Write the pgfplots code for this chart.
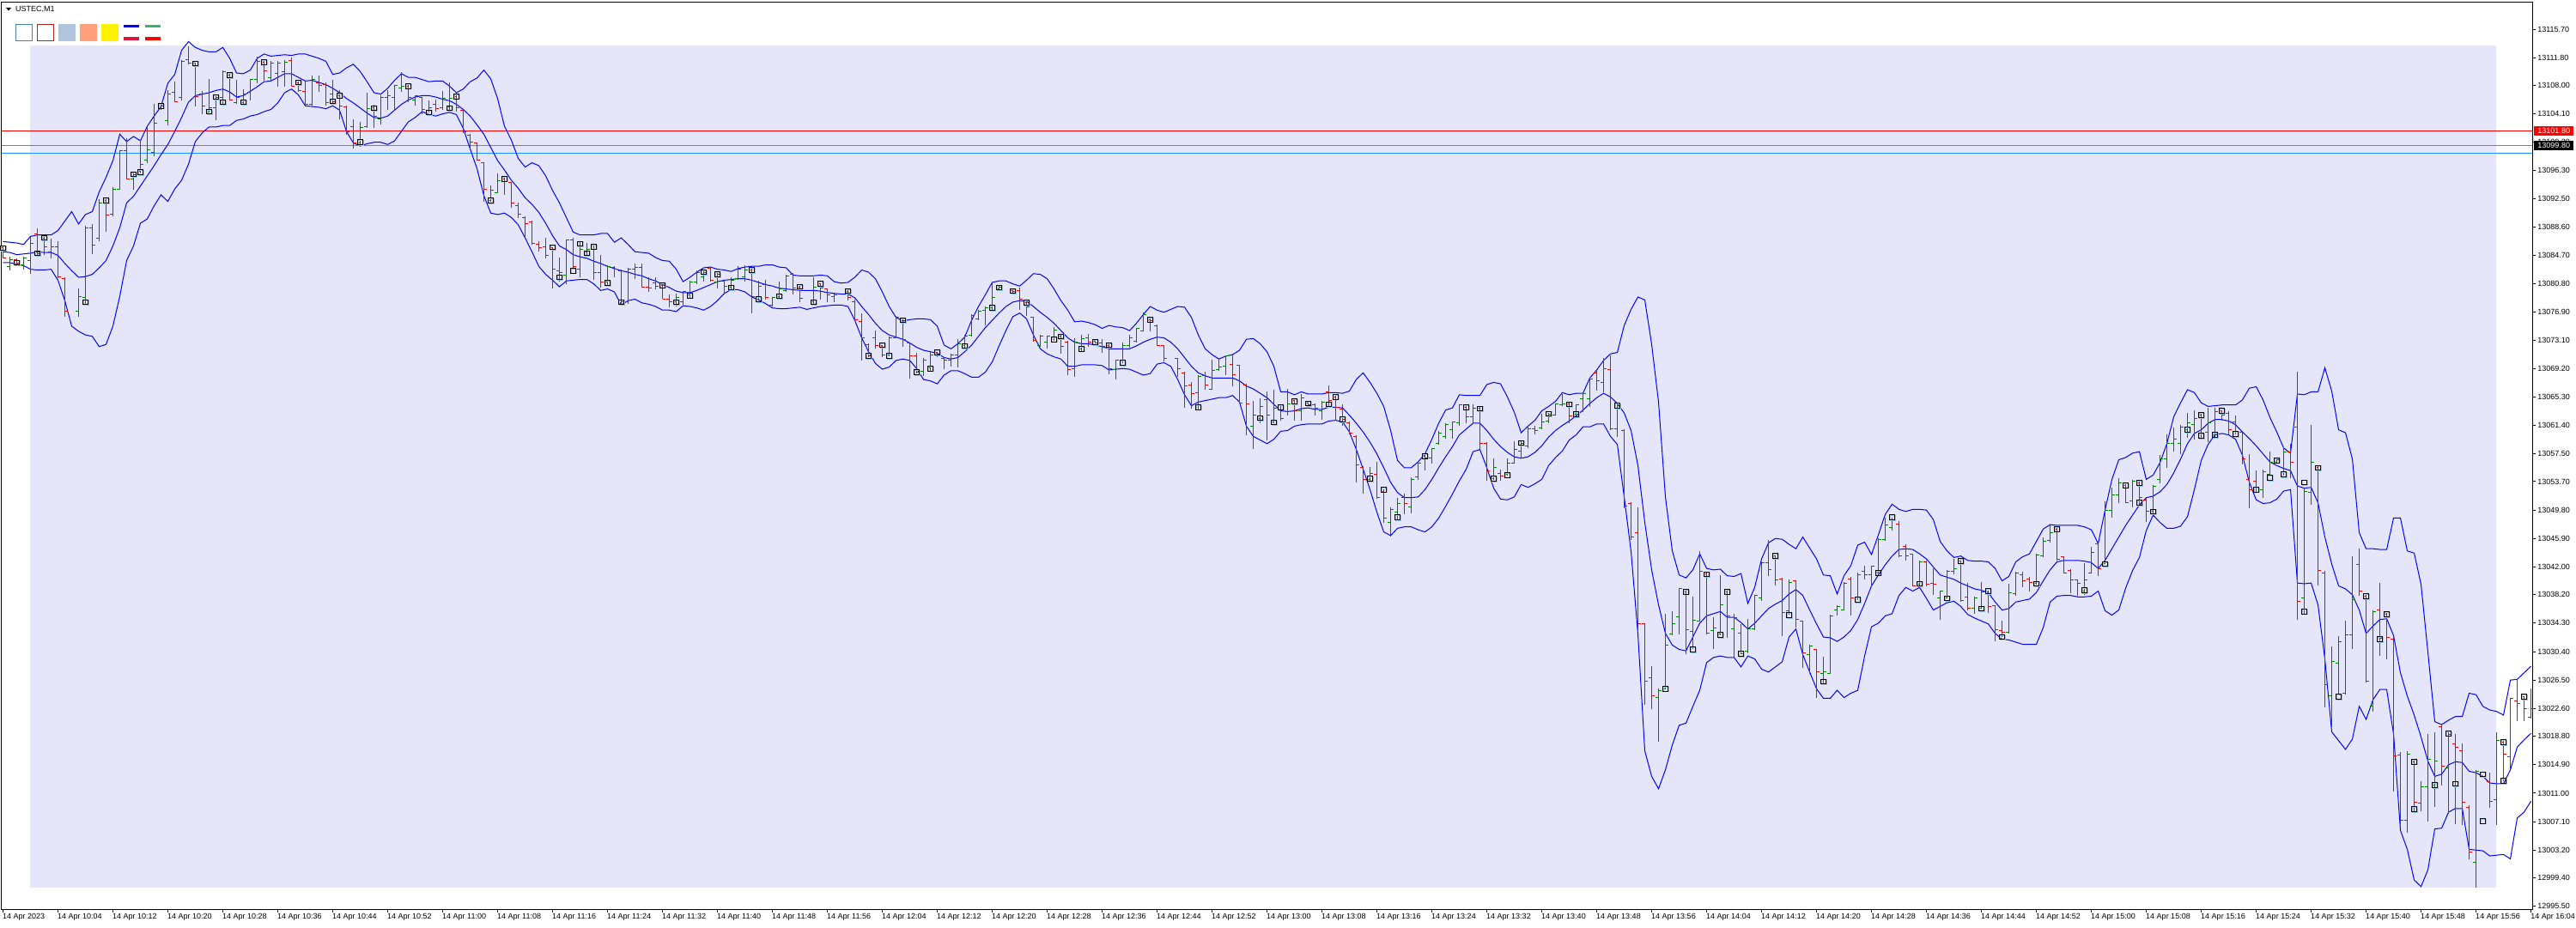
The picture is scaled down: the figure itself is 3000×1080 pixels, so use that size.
\documentclass[border=0pt]{standalone}
\usepackage{pgfplots}
\pgfplotsset{compat=1.18}
\usepackage{pgfplotstable}
\usepackage{fontspec}
\setmainfont{Liberation Sans}
\definecolor{mtgreen}{RGB}{0,128,0}
\definecolor{mtred}{RGB}{255,0,0}
\definecolor{lav}{RGB}{230,230,250}
\definecolor{bandblue}{RGB}{0,0,255}
\definecolor{sqshadow}{RGB}{140,200,240}
\definecolor{steelb}{RGB}{70,130,180}
\definecolor{fireb}{RGB}{178,34,34}
\definecolor{lsteel}{RGB}{176,196,222}
\definecolor{lsalmon}{RGB}{255,160,122}
\definecolor{crims}{RGB}{220,20,60}
\definecolor{mseagreen}{RGB}{60,179,113}
\definecolor{dodger}{RGB}{30,144,255}
\definecolor{bidgray}{RGB}{128,128,128}
\pgfdeclareplotmark{otick}{\pgfpathmoveto{\pgfqpoint{-3.5pt}{0pt}}\pgfpathlineto{\pgfqpoint{0pt}{0pt}}\pgfusepathqstroke}
\pgfdeclareplotmark{ctick}{\pgfpathmoveto{\pgfqpoint{0pt}{0pt}}\pgfpathlineto{\pgfqpoint{3.5pt}{0pt}}\pgfusepathqstroke}

\pgfplotstableread{
i O H L C
1 13083.2 13084.5 13082.6 13084.1
3 13083.4 13084.5 13082.7 13084.3
4 13084.0 13087.2 13082.2 13086.4
7 13085.2 13087.0 13084.3 13085.9
11 13077.1 13080.2 13076.3 13079.1
12 13078.9 13088.7 13078.0 13088.5
14 13087.1 13092.4 13086.6 13091.9
16 13090.3 13094.1 13090.1 13093.7
17 13093.8 13099.1 13093.7 13099.0
19 13095.2 13096.0 13093.7 13095.8
20 13096.2 13100.5 13095.9 13097.2
21 13097.7 13102.4 13097.3 13099.2
22 13098.8 13105.5 13098.3 13102.8
23 13104.9 13105.6 13104.6 13105.2
24 13103.2 13107.3 13102.5 13106.8
26 13106.4 13111.5 13105.9 13111.3
30 13104.4 13108.9 13104.3 13104.9
31 13104.9 13106.6 13103.2 13106.4
32 13106.4 13110.0 13105.5 13109.9
34 13105.7 13108.8 13105.5 13106.4
35 13105.7 13107.5 13105.5 13106.8
36 13107.1 13108.9 13105.9 13108.8
37 13108.8 13111.9 13108.3 13111.3
39 13109.0 13111.3 13108.5 13111.1
40 13109.7 13111.3 13107.8 13111.1
41 13109.9 13111.5 13107.8 13111.2
45 13105.4 13109.3 13105.2 13108.8
52 13100.1 13103.0 13099.6 13102.2
53 13102.4 13107.0 13102.2 13104.8
55 13103.4 13106.6 13102.6 13106.4
56 13106.4 13107.3 13104.6 13106.6
57 13106.4 13108.1 13104.6 13108.0
58 13107.7 13109.8 13107.1 13107.9
60 13106.0 13106.7 13105.2 13106.6
62 13104.6 13105.9 13104.3 13104.9
64 13104.9 13107.2 13104.7 13106.2
65 13105.0 13108.4 13104.6 13106.2
71 13092.2 13094.3 13092.0 13093.6
72 13093.3 13095.9 13093.2 13094.9
82 13082.0 13086.9 13080.7 13086.8
84 13082.8 13086.5 13081.7 13085.5
85 13085.2 13086.4 13084.8 13085.5
88 13081.1 13083.4 13080.5 13083.2
91 13078.3 13083.0 13078.1 13082.8
92 13082.8 13083.6 13081.5 13083.1
98 13078.3 13079.5 13077.7 13078.9
99 13078.3 13079.8 13077.9 13079.7
100 13079.3 13081.2 13078.9 13081.1
101 13081.1 13082.6 13080.8 13082.3
102 13081.7 13082.7 13081.1 13082.4
104 13081.1 13082.4 13080.2 13082.1
106 13080.3 13081.7 13080.1 13081.3
107 13081.5 13083.2 13081.3 13082.8
108 13081.7 13083.4 13081.1 13082.7
110 13078.9 13081.2 13078.6 13080.5
112 13077.9 13079.0 13077.7 13078.9
113 13079.1 13081.1 13078.9 13080.1
114 13079.9 13082.0 13079.7 13081.9
118 13078.3 13081.7 13078.0 13080.3
121 13079.1 13079.5 13078.3 13079.3
129 13071.1 13073.6 13070.9 13073.4
130 13073.4 13076.4 13073.4 13076.2
134 13068.8 13070.6 13068.2 13070.3
135 13069.3 13071.5 13068.9 13071.1
138 13070.3 13071.2 13069.5 13071.1
139 13071.1 13073.2 13069.3 13072.6
140 13072.4 13073.8 13072.1 13073.6
141 13073.8 13076.7 13073.6 13076.5
142 13076.0 13077.2 13075.8 13077.0
143 13077.2 13077.7 13075.1 13077.5
144 13077.5 13081.0 13077.2 13078.9
145 13080.1 13080.5 13079.9 13080.3
151 13072.4 13073.8 13072.2 13073.6
152 13072.8 13073.7 13071.9 13073.6
153 13073.4 13074.9 13073.0 13074.5
156 13069.2 13073.4 13068.1 13072.8
157 13071.9 13073.8 13071.5 13073.3
162 13069.1 13070.4 13067.7 13070.3
163 13070.2 13072.7 13069.9 13072.4
164 13072.3 13073.8 13072.1 13073.4
165 13072.9 13074.8 13072.8 13074.7
166 13074.4 13076.9 13074.3 13076.6
174 13065.9 13068.3 13063.6 13068.1
176 13066.4 13070.4 13066.4 13068.9
177 13069.1 13070.6 13068.9 13069.4
178 13069.5 13071.0 13068.3 13070.9
182 13061.3 13064.8 13058.2 13062.8
183 13062.4 13065.1 13061.7 13064.0
185 13061.9 13066.3 13061.7 13063.7
187 13063.3 13066.4 13062.8 13064.3
189 13063.4 13065.7 13062.1 13065.2
192 13063.4 13064.7 13062.2 13064.6
199 13054.0 13055.7 13053.8 13054.8
202 13048.1 13050.2 13046.2 13049.9
203 13049.5 13051.5 13048.5 13050.7
205 13050.2 13054.3 13049.4 13054.0
206 13054.3 13056.4 13053.9 13056.2
208 13056.9 13058.3 13056.2 13058.2
209 13058.9 13060.6 13058.8 13060.4
210 13059.9 13061.7 13059.6 13061.5
211 13060.8 13061.9 13059.6 13061.9
212 13061.7 13064.3 13061.3 13064.2
214 13062.6 13064.3 13061.7 13063.7
217 13054.1 13056.9 13053.9 13055.6
219 13054.7 13056.9 13054.5 13056.2
220 13056.2 13059.2 13056.2 13058.1
221 13057.9 13059.2 13056.9 13058.9
222 13058.6 13061.3 13058.3 13060.9
224 13061.0 13063.0 13060.9 13061.9
225 13062.0 13063.1 13061.7 13062.9
226 13062.8 13064.4 13062.7 13064.3
227 13064.2 13065.7 13064.0 13064.4
229 13062.9 13064.3 13062.7 13064.2
230 13065.0 13065.9 13063.2 13065.7
231 13065.1 13067.9 13063.9 13067.8
233 13067.3 13070.7 13065.9 13069.2
235 13060.9 13064.4 13059.8 13064.1
241 13024.1 13025.3 13018.1 13025.1
242 13025.3 13035.6 13025.3 13031.3
243 13032.8 13035.9 13032.6 13034.2
244 13035.2 13039.1 13032.8 13039.0
246 13033.2 13037.9 13030.8 13034.7
247 13034.6 13044.2 13034.5 13041.4
249 13033.3 13035.1 13030.8 13033.6
250 13032.8 13040.9 13032.6 13036.8
252 13033.5 13035.6 13029.6 13035.1
254 13030.5 13034.9 13030.2 13033.5
255 13033.5 13038.2 13033.3 13038.1
256 13037.7 13042.7 13037.4 13042.6
260 13036.0 13040.3 13035.5 13039.9
263 13030.0 13031.3 13027.4 13031.2
265 13027.4 13029.7 13026.1 13027.6
266 13027.4 13035.5 13027.3 13035.3
267 13036.1 13036.8 13035.3 13036.6
268 13036.1 13039.9 13036.0 13039.8
270 13037.7 13041.2 13037.5 13040.9
272 13040.9 13042.2 13039.2 13042.1
273 13041.2 13045.9 13041.2 13045.8
274 13045.7 13048.8 13045.6 13047.7
275 13047.4 13048.8 13047.0 13048.5
279 13039.6 13042.9 13039.5 13042.7
282 13037.7 13038.8 13034.7 13038.7
283 13037.7 13041.6 13037.7 13041.4
284 13041.4 13043.1 13041.0 13041.8
287 13036.3 13037.9 13035.6 13037.7
288 13036.4 13039.9 13036.3 13038.6
292 13033.0 13039.7 13032.9 13038.5
293 13038.3 13041.4 13038.0 13041.2
296 13039.8 13043.8 13039.6 13043.6
297 13043.5 13046.1 13043.3 13045.5
298 13045.6 13047.7 13045.4 13046.7
303 13038.7 13042.5 13038.2 13040.2
304 13041.2 13044.8 13041.1 13044.0
306 13042.5 13051.0 13042.4 13049.8
307 13049.8 13052.9 13048.8 13051.9
308 13051.9 13054.2 13050.7 13053.5
310 13051.0 13053.9 13050.2 13053.8
313 13049.6 13053.2 13049.3 13053.0
314 13054.0 13057.4 13053.5 13056.8
315 13056.8 13060.2 13055.6 13058.9
316 13058.9 13061.1 13057.8 13059.5
317 13058.9 13061.5 13057.5 13061.2
318 13060.8 13063.1 13059.7 13061.7
319 13061.5 13063.5 13059.5 13062.4
321 13060.5 13063.8 13059.1 13061.7
322 13060.1 13063.8 13059.8 13063.3
329 13052.6 13055.4 13051.5 13055.0
330 13054.7 13057.8 13054.5 13056.3
331 13056.4 13056.8 13056.3 13056.7
332 13055.0 13058.4 13054.5 13057.7
335 13037.7 13052.9 13035.6 13052.4
336 13052.2 13061.5 13050.5 13056.3
339 13024.3 13031.1 13020.1 13029.1
340 13028.8 13032.5 13024.5 13031.7
341 13024.7 13034.7 13024.5 13032.7
342 13032.7 13043.5 13030.7 13037.5
345 13022.9 13036.1 13022.2 13035.9
350 13007.3 13016.7 13005.6 13016.3
352 13009.6 13012.6 13008.5 13011.9
353 13011.9 13019.1 13007.1 13015.6
354 13012.1 13019.4 13009.1 13015.4
356 13014.5 13019.6 13008.2 13019.1
360 13001.5 13014.2 12998.0 13014.0
363 13010.1 13019.4 13006.6 13018.2
365 13016.0 13024.0 13014.3 13024.0
368 13021.4 13025.4 13021.2 13022.6
}\tgreen

\pgfplotstableread{
i O H L C
0 13085.7 13086.0 13084.3 13084.4
2 13084.1 13084.3 13083.3 13083.6
5 13087.6 13088.4 13084.7 13084.9
6 13087.1 13087.3 13084.7 13085.9
8 13085.9 13086.6 13081.6 13081.7
9 13081.5 13081.7 13076.3 13077.1
13 13088.5 13089.0 13084.9 13086.1
15 13092.2 13092.4 13087.9 13090.2
18 13099.1 13100.8 13095.1 13095.2
25 13107.0 13108.5 13105.7 13105.8
27 13111.5 13113.4 13110.9 13111.1
28 13111.0 13111.1 13105.1 13106.5
29 13106.8 13107.2 13104.1 13105.2
33 13109.4 13109.7 13105.9 13106.0
38 13111.2 13111.5 13108.7 13110.0
42 13111.4 13111.8 13107.8 13107.9
43 13108.4 13108.7 13107.1 13107.3
44 13107.2 13108.7 13105.2 13105.4
46 13108.3 13109.4 13107.1 13108.0
47 13108.1 13108.4 13105.2 13105.6
48 13106.8 13108.8 13105.6 13105.8
49 13106.6 13107.3 13103.4 13105.2
50 13105.1 13105.2 13101.2 13101.7
51 13102.4 13103.4 13099.3 13100.1
54 13104.9 13105.4 13102.2 13103.8
59 13107.9 13108.0 13105.7 13106.4
61 13106.4 13106.4 13104.1 13104.7
63 13105.4 13106.0 13104.4 13104.8
66 13106.5 13107.0 13104.4 13104.9
67 13104.6 13104.7 13101.5 13101.6
68 13101.2 13101.3 13099.3 13100.2
69 13100.1 13100.2 13097.7 13097.8
70 13097.4 13097.5 13092.1 13093.8
73 13095.2 13095.4 13093.0 13094.8
74 13094.7 13094.8 13091.2 13091.9
75 13091.5 13091.9 13089.8 13090.3
76 13089.9 13090.0 13087.1 13089.1
77 13089.3 13089.5 13086.2 13086.3
78 13086.2 13086.6 13085.2 13085.8
79 13085.9 13087.1 13084.3 13084.7
80 13085.7 13085.8 13080.2 13082.8
81 13082.6 13084.4 13081.1 13082.4
83 13086.8 13087.1 13082.7 13083.2
86 13085.5 13086.0 13081.4 13082.3
87 13082.4 13084.8 13080.3 13081.1
89 13083.1 13083.2 13081.7 13082.8
90 13082.6 13082.8 13078.1 13078.3
93 13083.0 13083.6 13080.3 13080.3
94 13080.3 13081.7 13079.7 13080.2
95 13080.9 13081.7 13080.1 13080.5
96 13080.6 13080.8 13078.7 13078.7
97 13078.7 13079.4 13077.6 13078.3
103 13082.9 13083.1 13081.1 13081.3
105 13081.2 13081.3 13079.3 13080.5
109 13082.7 13083.0 13076.7 13079.1
111 13080.7 13081.3 13078.6 13078.9
115 13082.1 13082.3 13079.4 13080.2
116 13080.4 13080.5 13078.3 13078.8
119 13080.8 13080.9 13078.6 13080.2
120 13080.1 13080.2 13078.3 13079.3
123 13079.8 13079.9 13078.5 13078.9
124 13078.3 13078.7 13075.8 13075.9
125 13075.6 13076.8 13070.3 13073.4
126 13072.5 13072.7 13070.7 13070.9
127 13073.4 13074.4 13071.9 13072.3
128 13072.4 13072.4 13070.7 13071.1
131 13075.8 13076.0 13072.2 13073.2
132 13072.7 13072.8 13067.8 13070.9
133 13070.9 13071.3 13068.5 13068.7
136 13071.4 13071.5 13070.7 13070.9
137 13070.6 13070.8 13069.1 13070.3
147 13079.9 13080.0 13079.5 13079.7
148 13079.9 13080.3 13077.2 13078.7
149 13078.2 13078.5 13076.4 13077.6
150 13076.2 13076.2 13072.9 13073.0
154 13073.6 13073.9 13071.2 13072.2
155 13072.8 13073.0 13068.3 13069.1
158 13073.4 13073.9 13072.2 13072.8
159 13072.9 13073.0 13072.6 13072.7
160 13072.7 13073.2 13071.3 13072.2
161 13072.4 13072.6 13068.4 13069.2
167 13075.9 13076.1 13074.3 13075.7
168 13075.1 13075.2 13072.3 13072.4
169 13072.3 13072.4 13070.2 13070.6
171 13070.6 13070.6 13068.1 13069.2
172 13068.6 13068.7 13063.8 13066.8
173 13066.9 13067.4 13063.7 13065.7
175 13068.2 13068.8 13066.3 13066.9
179 13069.7 13071.2 13066.7 13068.4
180 13069.6 13069.7 13064.4 13064.5
181 13066.9 13067.1 13060.1 13064.4
184 13064.9 13066.0 13059.4 13062.8
186 13063.5 13064.0 13062.0 13062.4
188 13064.8 13065.1 13062.1 13063.4
190 13064.5 13064.6 13064.1 13064.2
191 13064.2 13064.4 13062.8 13063.8
193 13066.0 13066.9 13064.0 13064.8
194 13065.3 13065.6 13062.0 13063.9
195 13063.6 13064.3 13061.3 13062.2
196 13061.7 13061.9 13060.2 13060.3
197 13059.9 13060.0 13053.6 13056.0
198 13055.6 13055.8 13052.0 13054.0
200 13054.7 13056.4 13051.3 13051.5
201 13052.4 13052.6 13048.1 13048.7
204 13051.5 13052.1 13049.2 13050.7
207 13057.2 13057.4 13055.2 13056.9
213 13063.9 13064.2 13061.7 13062.6
215 13063.7 13064.0 13058.2 13058.9
216 13058.9 13059.1 13053.8 13055.2
218 13054.8 13055.4 13053.8 13054.5
223 13060.9 13061.3 13060.2 13060.7
228 13064.3 13064.6 13061.7 13062.7
232 13068.6 13069.0 13066.2 13067.5
234 13069.0 13071.0 13060.8 13060.9
236 13060.7 13060.9 13050.1 13050.3
237 13050.7 13050.9 13045.7 13046.1
238 13046.7 13050.2 13033.1 13034.2
239 13034.2 13034.3 13023.1 13026.4
240 13026.8 13028.4 13022.5 13024.3
245 13038.6 13038.8 13030.0 13033.4
248 13041.0 13041.4 13032.7 13032.9
251 13038.6 13038.7 13032.3 13035.3
253 13032.9 13034.2 13030.0 13030.1
257 13042.6 13045.7 13040.7 13041.6
258 13043.5 13043.5 13039.5 13040.2
259 13040.3 13040.5 13032.5 13035.7
261 13040.1 13040.2 13033.7 13034.8
262 13034.6 13034.7 13028.2 13030.2
264 13030.7 13030.8 13024.0 13027.6
269 13040.3 13040.7 13035.3 13037.7
271 13041.4 13042.2 13040.3 13040.9
276 13047.9 13048.3 13043.4 13043.5
277 13044.8 13045.1 13042.9 13043.5
278 13043.8 13043.8 13039.4 13039.4
280 13042.7 13042.9 13039.4 13039.6
281 13039.8 13041.8 13038.2 13039.6
285 13042.8 13042.9 13037.2 13037.4
286 13037.9 13039.8 13036.1 13036.3
289 13038.6 13038.7 13035.7 13036.6
290 13036.7 13036.8 13031.8 13033.4
291 13033.3 13034.6 13032.4 13033.0
294 13040.9 13041.4 13039.2 13040.1
295 13040.3 13040.6 13038.6 13039.9
299 13047.2 13047.5 13042.9 13043.0
300 13043.4 13043.5 13041.1 13041.2
301 13041.5 13041.7 13038.4 13040.2
302 13040.2 13040.3 13038.0 13039.8
305 13045.2 13045.3 13040.8 13041.7
309 13053.2 13053.3 13050.8 13050.8
311 13053.5 13053.9 13050.3 13051.5
312 13051.2 13051.5 13048.2 13049.6
320 13062.8 13063.1 13059.7 13060.4
323 13063.4 13063.5 13062.0 13062.8
324 13063.1 13063.3 13060.1 13060.8
325 13061.9 13062.8 13060.2 13060.5
326 13060.5 13060.6 13056.1 13056.8
327 13054.0 13057.5 13050.1 13052.6
328 13053.8 13055.2 13052.2 13052.8
333 13057.8 13058.9 13054.2 13056.3
334 13061.2 13068.8 13034.7 13037.3
337 13055.6 13055.8 13039.5 13041.5
338 13041.2 13041.5 13022.8 13025.9
343 13042.4 13044.5 13038.0 13038.7
344 13038.0 13038.2 13026.2 13026.3
346 13036.1 13039.8 13029.8 13032.2
347 13035.5 13035.8 13029.3 13032.4
348 13032.1 13032.4 13011.2 13016.1
349 13016.2 13016.6 13006.6 13007.3
351 13015.3 13015.5 13008.5 13009.8
355 13020.1 13020.4 13012.1 13014.7
357 13017.7 13019.1 13006.7 13017.3
358 13016.8 13017.8 13006.6 13009.8
359 13009.1 13009.3 13001.9 13002.9
362 13012.6 13013.8 13009.0 13009.9
364 13018.0 13018.2 13012.6 13016.3
366 13023.6 13026.6 13020.9 13023.3
367 13024.2 13024.3 13020.9 13022.6
}\tred

\pgfplotstableread{
i S
0 13085.7
2 13083.7
5 13085.0
6 13087.1
12 13078.3
15 13092.2
19 13095.8
20 13096.1
23 13105.2
28 13111.0
30 13104.4
31 13106.4
32 13105.7
33 13109.4
35 13105.7
38 13111.2
43 13108.4
48 13105.8
49 13106.6
52 13100.2
54 13104.9
59 13107.9
62 13104.3
65 13104.9
66 13106.5
71 13092.2
73 13095.2
80 13085.8
81 13081.7
83 13082.6
84 13086.3
85 13085.0
86 13085.9
88 13080.9
90 13078.3
96 13080.6
98 13078.3
100 13079.2
102 13082.4
104 13082.1
106 13080.3
109 13082.7
110 13078.7
113 13079.1
116 13080.4
118 13078.3
119 13080.8
123 13079.8
126 13070.9
128 13072.4
129 13070.9
131 13075.8
133 13068.7
135 13069.2
136 13071.4
140 13072.3
144 13077.5
145 13080.3
147 13079.8
149 13078.2
153 13073.2
154 13073.6
157 13071.9
159 13072.8
161 13072.4
163 13070.0
167 13075.9
174 13063.9
183 13062.4
185 13061.8
186 13063.9
188 13064.7
190 13064.4
193 13064.3
194 13065.3
195 13062.2
199 13054.1
201 13052.6
203 13048.8
207 13057.2
213 13063.9
215 13063.7
217 13054.1
219 13054.6
221 13059.0
225 13063.0
228 13064.3
229 13062.9
235 13064.1
242 13025.3
245 13038.6
246 13030.7
248 13041.0
250 13032.7
251 13038.6
253 13030.1
258 13043.5
260 13035.4
265 13026.3
270 13037.5
273 13041.2
275 13048.8
279 13039.7
283 13037.7
285 13042.8
288 13036.3
289 13038.7
291 13032.4
296 13039.7
299 13047.2
303 13038.8
306 13042.4
309 13053.2
311 13053.5
311 13050.8
313 13049.6
318 13060.8
320 13062.8
320 13060.0
322 13060.1
323 13063.4
325 13060.2
328 13052.6
330 13054.2
331 13056.6
332 13054.7
335 13053.6
335 13035.9
337 13055.6
340 13024.2
344 13038.0
346 13032.1
347 13035.5
351 13015.3
351 13008.8
354 13012.1
356 13019.2
357 13012.3
361 13013.6
361 13007.2
364 13018.0
364 13012.7
367 13024.2
}\tsq

\pgfplotstableread{
i U M L
0 13086.6 13085.2 13083.7
1 13086.5 13085.1 13083.7
2 13086.4 13084.8 13083.5
3 13086.2 13084.9 13083.3
4 13087.3 13085.0 13082.8
5 13087.5 13085.2 13082.7
6 13087.5 13085.1 13082.7
7 13087.5 13085.1 13082.8
8 13088.1 13084.7 13081.3
9 13089.4 13083.6 13078.5
10 13090.7 13082.6 13075.0
11 13089.0 13081.7 13074.3
12 13090.3 13081.8 13073.8
13 13090.7 13082.1 13073.6
14 13093.4 13083.0 13072.2
15 13095.4 13084.0 13072.5
16 13097.7 13086.0 13075.0
17 13101.3 13088.5 13079.1
18 13100.3 13091.9 13084.0
19 13101.0 13092.8 13086.0
20 13100.4 13094.2 13089.1
21 13102.4 13095.6 13089.7
22 13103.8 13097.0 13091.5
23 13105.1 13098.5 13093.0
24 13108.3 13099.9 13092.1
25 13109.5 13101.7 13093.8
26 13112.8 13103.6 13095.0
27 13114.0 13105.7 13097.2
28 13113.2 13106.6 13100.3
29 13112.8 13106.8 13101.5
30 13112.6 13107.0 13102.3
31 13112.6 13107.3 13102.3
32 13113.2 13107.5 13102.5
33 13111.7 13107.1 13102.5
34 13109.7 13106.4 13103.2
35 13109.6 13106.6 13103.4
36 13110.1 13107.2 13103.8
37 13111.7 13107.8 13104.0
38 13112.3 13108.5 13104.4
39 13112.0 13108.6 13104.7
40 13112.1 13109.1 13105.6
41 13112.2 13109.6 13107.0
42 13112.1 13109.6 13107.5
43 13112.3 13109.1 13106.7
44 13112.3 13108.6 13105.2
45 13112.0 13108.7 13105.1
46 13111.7 13108.4 13105.0
47 13111.3 13108.1 13104.8
48 13109.5 13107.6 13105.2
49 13109.7 13107.0 13104.6
50 13110.4 13106.2 13101.7
51 13110.9 13105.6 13100.1
52 13109.9 13104.9 13099.7
53 13108.5 13104.2 13100.0
54 13107.0 13103.6 13100.2
55 13106.8 13103.5 13100.2
56 13107.6 13103.8 13099.9
57 13108.7 13104.6 13100.4
58 13109.6 13105.4 13101.7
59 13109.1 13106.0 13103.0
60 13109.1 13106.4 13103.6
61 13108.8 13106.6 13104.4
62 13108.5 13106.6 13104.0
63 13108.6 13106.4 13103.8
64 13108.6 13106.1 13104.1
65 13107.9 13105.9 13104.3
66 13107.0 13105.4 13104.0
67 13107.5 13104.7 13102.1
68 13108.5 13103.8 13099.3
69 13109.0 13102.6 13096.6
70 13110.1 13101.3 13092.9
71 13108.9 13099.5 13090.5
72 13106.2 13097.7 13090.3
73 13102.4 13096.4 13090.5
74 13100.5 13095.0 13089.9
75 13098.0 13093.9 13088.9
76 13096.8 13092.6 13087.1
77 13097.4 13091.7 13085.2
78 13097.0 13090.6 13083.2
79 13095.6 13089.1 13082.1
80 13093.6 13087.4 13081.3
81 13091.9 13086.0 13080.4
82 13089.9 13085.5 13081.2
83 13087.9 13084.8 13081.3
84 13087.5 13084.5 13081.4
85 13087.5 13084.3 13081.4
86 13087.5 13083.9 13080.8
87 13087.7 13083.6 13079.9
88 13087.7 13083.2 13080.1
89 13086.5 13082.9 13079.7
90 13087.1 13082.6 13077.9
91 13086.2 13082.4 13078.5
92 13085.2 13082.1 13078.7
93 13085.1 13081.9 13078.2
94 13085.0 13081.5 13078.0
95 13084.4 13081.2 13077.7
96 13084.0 13080.7 13077.2
97 13083.9 13080.3 13077.2
98 13082.8 13079.8 13077.0
99 13081.1 13079.6 13077.8
100 13081.7 13079.6 13077.7
101 13082.4 13079.9 13077.5
102 13083.0 13080.3 13077.2
103 13083.1 13080.7 13077.7
104 13082.8 13081.1 13078.5
105 13082.7 13081.3 13079.5
106 13082.5 13081.4 13080.0
107 13082.9 13081.5 13080.0
108 13083.1 13081.5 13079.7
109 13083.2 13081.3 13079.0
110 13083.2 13081.0 13078.6
111 13083.4 13080.7 13078.1
112 13083.4 13080.5 13077.5
113 13083.1 13080.2 13077.4
114 13083.0 13080.1 13077.4
115 13082.0 13080.0 13077.5
116 13081.9 13079.9 13077.6
117 13081.9 13079.9 13077.3
118 13081.9 13079.9 13077.5
119 13082.0 13079.8 13077.7
120 13081.9 13079.6 13077.8
121 13081.1 13079.5 13077.9
122 13080.9 13079.4 13077.9
123 13081.0 13079.4 13077.7
124 13081.7 13078.9 13075.8
125 13082.7 13077.7 13073.4
126 13082.4 13076.6 13071.5
127 13081.5 13075.4 13069.9
128 13079.7 13074.4 13069.1
129 13077.7 13073.8 13069.4
130 13076.2 13073.5 13070.3
131 13075.7 13073.2 13070.5
132 13075.9 13072.7 13070.3
133 13076.0 13072.1 13069.2
134 13076.0 13071.7 13067.7
135 13075.9 13071.5 13067.5
136 13075.0 13071.3 13067.1
137 13072.4 13070.7 13068.3
138 13071.9 13070.5 13068.9
139 13072.6 13070.7 13068.9
140 13073.5 13071.5 13068.5
141 13075.8 13072.4 13068.0
142 13077.7 13073.6 13068.0
143 13079.3 13074.8 13068.7
144 13081.0 13075.8 13070.1
145 13081.2 13076.8 13072.3
146 13081.2 13077.7 13074.4
147 13080.8 13078.3 13076.3
148 13080.5 13078.5 13076.8
149 13081.3 13078.4 13076.0
150 13082.2 13077.7 13073.8
151 13082.1 13076.9 13071.9
152 13081.5 13076.2 13071.2
153 13080.1 13075.4 13070.8
154 13078.5 13074.4 13070.5
155 13077.2 13073.4 13069.5
156 13075.6 13072.8 13069.5
157 13075.7 13072.6 13069.7
158 13075.5 13072.6 13069.7
159 13075.2 13072.4 13069.7
160 13074.7 13072.2 13069.6
161 13075.1 13071.9 13069.0
162 13074.9 13071.9 13069.1
163 13074.8 13071.9 13069.2
164 13074.4 13071.9 13069.1
165 13075.4 13072.3 13068.7
166 13076.6 13072.8 13068.3
167 13077.7 13073.2 13068.5
168 13077.2 13073.5 13069.8
169 13076.9 13073.4 13070.0
170 13077.3 13072.8 13069.5
171 13077.7 13071.9 13067.7
172 13077.6 13070.7 13065.6
173 13076.2 13069.5 13064.1
174 13073.8 13068.6 13064.6
175 13071.9 13068.2 13064.8
176 13071.1 13067.9 13065.0
177 13070.5 13067.9 13065.2
178 13070.9 13067.9 13065.2
179 13071.1 13067.9 13065.5
180 13071.7 13067.5 13064.6
181 13073.2 13066.8 13061.3
182 13073.3 13066.4 13059.9
183 13072.6 13065.8 13059.4
184 13071.5 13065.2 13058.9
185 13069.5 13064.3 13059.5
186 13066.0 13063.4 13060.6
187 13066.0 13063.3 13060.7
188 13065.6 13063.4 13061.3
189 13066.0 13063.7 13061.5
190 13065.7 13063.8 13061.6
191 13065.7 13063.6 13061.6
192 13065.7 13063.6 13061.6
193 13065.9 13063.9 13062.0
194 13065.9 13063.9 13062.1
195 13065.8 13063.8 13061.9
196 13066.1 13062.8 13060.5
197 13067.7 13061.7 13058.1
198 13068.6 13060.5 13055.4
199 13067.3 13059.1 13052.6
200 13065.8 13057.5 13049.5
201 13064.0 13055.6 13046.8
202 13060.7 13053.6 13046.3
203 13056.6 13052.2 13047.3
204 13055.6 13051.5 13047.5
205 13055.6 13051.5 13047.5
206 13056.4 13051.6 13047.1
207 13057.5 13052.6 13046.8
208 13059.5 13054.0 13047.5
209 13061.7 13055.6 13048.7
210 13063.5 13057.1 13050.3
211 13063.8 13058.5 13052.0
212 13065.6 13060.1 13053.8
213 13065.5 13060.9 13055.4
214 13065.5 13061.7 13057.8
215 13065.5 13061.7 13058.1
216 13067.0 13060.7 13055.6
217 13067.3 13059.5 13052.8
218 13067.1 13058.5 13051.3
219 13065.3 13057.7 13051.2
220 13063.2 13057.1 13051.6
221 13060.4 13056.9 13053.3
222 13061.3 13057.1 13052.9
223 13062.1 13057.7 13053.4
224 13063.4 13058.6 13054.0
225 13064.0 13059.8 13055.9
226 13064.7 13060.7 13057.0
227 13065.9 13061.4 13057.9
228 13065.6 13062.0 13059.4
229 13065.8 13062.7 13060.1
230 13065.8 13063.5 13061.2
231 13067.9 13064.4 13061.2
232 13069.0 13065.2 13061.6
233 13070.3 13065.8 13061.6
234 13071.2 13065.3 13059.9
235 13071.4 13064.4 13058.8
236 13075.1 13063.1 13051.6
237 13077.3 13060.7 13044.1
238 13079.0 13055.9 13032.8
239 13078.6 13048.1 13016.8
240 13072.5 13041.6 13013.3
241 13064.6 13036.8 13011.6
242 13051.6 13032.9 13014.2
243 13044.2 13031.3 13017.6
244 13040.9 13030.7 13020.3
245 13040.5 13030.5 13020.6
246 13041.6 13032.4 13022.9
247 13043.8 13034.3 13025.1
248 13041.8 13035.3 13028.9
249 13041.6 13035.6 13029.6
250 13041.7 13035.9 13029.8
251 13040.8 13035.1 13029.6
252 13040.7 13035.1 13029.6
253 13041.1 13034.4 13028.3
254 13037.0 13033.5 13029.8
255 13039.2 13034.3 13029.4
256 13043.1 13035.3 13028.0
257 13045.3 13036.3 13027.6
258 13045.9 13036.9 13028.3
259 13045.8 13037.4 13029.0
260 13045.1 13038.3 13032.4
261 13044.5 13038.9 13033.5
262 13046.1 13038.1 13030.0
263 13044.6 13036.1 13027.6
264 13043.1 13034.2 13025.3
265 13040.9 13032.4 13024.0
266 13040.8 13032.3 13024.0
267 13038.3 13031.8 13025.1
268 13040.8 13032.4 13024.1
269 13042.2 13033.3 13024.7
270 13045.0 13034.8 13025.1
271 13045.4 13037.0 13029.8
272 13043.7 13039.4 13033.8
273 13046.4 13040.9 13034.3
274 13049.2 13042.3 13035.3
275 13050.6 13043.5 13035.6
276 13049.9 13044.4 13038.1
277 13049.6 13044.5 13039.2
278 13049.9 13044.4 13038.7
279 13049.9 13043.8 13039.2
280 13049.8 13043.1 13037.7
281 13048.5 13042.0 13036.1
282 13045.5 13040.9 13036.6
283 13044.2 13040.6 13037.1
284 13043.3 13040.3 13037.3
285 13043.5 13039.8 13036.6
286 13042.9 13039.4 13035.5
287 13042.8 13039.0 13035.0
288 13042.8 13038.8 13034.6
289 13042.7 13038.5 13034.2
290 13041.8 13037.2 13032.9
291 13040.1 13036.1 13032.1
292 13040.7 13036.3 13032.0
293 13042.7 13037.2 13031.7
294 13043.4 13037.4 13031.4
295 13043.8 13037.6 13031.4
296 13045.5 13038.5 13031.4
297 13047.2 13040.1 13033.7
298 13047.8 13041.6 13037.2
299 13047.7 13042.7 13038.0
300 13047.7 13042.9 13038.1
301 13047.7 13042.9 13038.1
302 13047.7 13042.9 13037.9
303 13047.5 13042.8 13037.9
304 13047.1 13042.6 13038.0
305 13045.2 13041.8 13038.7
306 13049.8 13042.9 13036.0
307 13054.0 13044.5 13035.4
308 13056.7 13046.1 13036.1
309 13057.0 13047.7 13039.1
310 13057.6 13049.1 13041.5
311 13057.8 13050.5 13043.3
312 13054.0 13051.5 13047.0
313 13054.6 13051.7 13049.1
314 13056.3 13052.3 13048.1
315 13058.9 13053.3 13047.3
316 13062.6 13054.9 13047.3
317 13064.5 13056.8 13047.6
318 13066.3 13058.9 13048.9
319 13065.9 13060.3 13052.6
320 13064.5 13060.8 13056.6
321 13064.0 13061.7 13058.8
322 13064.1 13062.2 13060.1
323 13064.2 13062.2 13060.3
324 13064.2 13062.0 13060.1
325 13064.2 13061.5 13059.5
326 13064.9 13060.5 13057.3
327 13066.5 13059.6 13053.6
328 13066.7 13058.6 13051.2
329 13064.9 13057.5 13050.7
330 13062.5 13056.4 13050.8
331 13060.5 13055.9 13051.3
332 13058.3 13055.5 13052.4
333 13057.6 13055.2 13052.6
334 13065.7 13053.1 13039.8
335 13065.6 13052.8 13039.7
336 13066.0 13052.9 13039.8
337 13066.0 13050.8 13036.8
338 13069.3 13046.1 13029.4
339 13066.1 13042.4 13019.4
340 13060.8 13039.4 13018.2
341 13060.4 13039.0 13017.0
342 13056.8 13038.2 13018.4
343 13046.7 13036.1 13022.9
344 13044.5 13032.9 13021.1
345 13044.5 13033.9 13023.8
346 13044.4 13034.8 13025.2
347 13044.4 13034.9 13025.2
348 13048.7 13032.6 13019.1
349 13048.7 13027.5 13005.9
350 13044.2 13024.3 13003.3
351 13043.9 13021.7 12999.1
352 13039.6 13018.7 12998.2
353 13030.3 13015.4 13000.5
354 13020.8 13013.3 13006.1
355 13020.4 13013.6 13006.2
356 13021.0 13014.9 13008.4
357 13021.5 13015.3 13008.9
358 13021.5 13015.2 13008.9
359 13024.7 13014.0 13003.3
360 13024.5 13013.8 13003.2
361 13022.9 13013.3 13003.1
362 13022.4 13012.4 13002.4
363 13022.2 13012.3 13002.5
364 13021.7 13012.3 13002.6
365 13026.5 13014.2 13002.0
366 13026.6 13017.3 13007.6
367 13027.5 13018.3 13008.4
368 13028.4 13019.2 13009.9
}\tband

\begin{document}
\begin{tikzpicture}
\fill[white] (-2pt,-21pt) rectangle (2998pt,1059pt);
\begin{axis}[
  at={(0pt,0pt)}, anchor=south west,
  scale only axis, width=2947pt, height=1056pt,
  xmin=-0.1875, xmax=368.1875, ymin=12995.11, ymax=13119.35,
  axis line style={line width=1pt, black},
  clip=false,
  xtick={0,8,...,368},
  xticklabels={14 Apr 2023,14 Apr 10:04,14 Apr 10:12,14 Apr 10:20,14 Apr 10:28,14 Apr 10:36,14 Apr 10:44,14 Apr 10:52,14 Apr 11:00,14 Apr 11:08,14 Apr 11:16,14 Apr 11:24,14 Apr 11:32,14 Apr 11:40,14 Apr 11:48,14 Apr 11:56,14 Apr 12:04,14 Apr 12:12,14 Apr 12:20,14 Apr 12:28,14 Apr 12:36,14 Apr 12:44,14 Apr 12:52,14 Apr 13:00,14 Apr 13:08,14 Apr 13:16,14 Apr 13:24,14 Apr 13:32,14 Apr 13:40,14 Apr 13:48,14 Apr 13:56,14 Apr 14:04,14 Apr 14:12,14 Apr 14:20,14 Apr 14:28,14 Apr 14:36,14 Apr 14:44,14 Apr 14:52,14 Apr 15:00,14 Apr 15:08,14 Apr 15:16,14 Apr 15:24,14 Apr 15:32,14 Apr 15:40,14 Apr 15:48,14 Apr 15:56,14 Apr 16:04},
  ytick={13115.7,13111.8,13108.0,13104.1,13100.2,13096.3,13092.5,13088.6,13084.7,13080.8,13076.9,13073.1,13069.2,13065.3,13061.4,13057.5,13053.7,13049.8,13045.9,13042.0,13038.2,13034.3,13030.4,13026.5,13022.6,13018.8,13014.9,13011.0,13007.1,13003.2,12999.4,12995.5},
  yticklabels={13115.70,13111.80,13108.00,13104.10,13100.20,13096.30,13092.50,13088.60,13084.70,13080.80,13076.90,13073.10,13069.20,13065.30,13061.40,13057.50,13053.70,13049.80,13045.90,13042.00,13038.20,13034.30,13030.40,13026.50,13022.60,13018.80,13014.90,13011.00,13007.10,13003.20,12999.40,12995.50},
  xtick pos=lower, ytick pos=upper, yticklabel pos=upper,
  tick align=outside, major tick length=4pt,
  tick style={black, line width=1pt},
  tick label style={font=\fontsize{9}{10}\selectfont, text=black},
  xticklabel style={anchor=north west, inner sep=0pt, yshift=-1pt, xshift=-0.5pt},
  yticklabel style={anchor=west, inner sep=0pt, xshift=2pt},
]
% lavender rectangle
\addplot[draw=none, fill=lav] coordinates {(3.91,12998.09) (362.94,12998.09) (362.94,13113.5) (3.91,13113.5)} -- cycle;
% horizontal lines
\addplot[mtred, line width=1pt] coordinates {(-0.1875,13101.8) (368.1875,13101.8)};
\addplot[bidgray, line width=1pt] coordinates {(-0.1875,13099.8) (368.1875,13099.8)};
\addplot[dodger, line width=1pt] coordinates {(-0.1875,13098.75) (368.1875,13098.75)};
% bands
\addplot[bandblue, line width=1pt] table[x=i, y=U] {\tband};
\addplot[bandblue, line width=1pt] table[x=i, y=M] {\tband};
\addplot[bandblue, line width=1pt] table[x=i, y=L] {\tband};
% green bars
\addplot[draw=none, mark=none, error bars/.cd, y dir=plus, y explicit, error mark=none, error bar style={draw=mtgreen, line width=1.2pt}]
  table[x=i, y=L, y error plus expr=\thisrow{H}-\thisrow{L}] {\tgreen};
\addplot[mtgreen, only marks, mark=otick, mark options={line width=1pt}] table[x=i, y=O] {\tgreen};
\addplot[mtgreen, only marks, mark=ctick, mark options={line width=1pt}] table[x=i, y=C] {\tgreen};
% red bars
\addplot[draw=none, mark=none, error bars/.cd, y dir=plus, y explicit, error mark=none, error bar style={draw=mtred, line width=1.2pt}]
  table[x=i, y=L, y error plus expr=\thisrow{H}-\thisrow{L}] {\tred};
\addplot[mtred, only marks, mark=otick, mark options={line width=1pt}] table[x=i, y=O] {\tred};
\addplot[mtred, only marks, mark=ctick, mark options={line width=1pt}] table[x=i, y=C] {\tred};
% squares
\addplot[only marks, mark=square, mark size=2.8pt, mark options={draw=sqshadow, line width=1pt, xshift=1pt, yshift=-0.8pt}] table[x=i, y=S] {\tsq};
\addplot[only marks, mark=square, mark size=2.8pt, mark options={draw=black, line width=1pt}] table[x=i, y=S] {\tsq};
% price boxes
\node[fill=mtred, text=white, anchor=west, inner sep=0pt, minimum width=46pt, minimum height=11pt, font=\fontsize{9}{10}\selectfont] at (axis cs:368.1875,13101.8) [xshift=2pt] {13101.80};
\node[fill=black, text=white, anchor=west, inner sep=0pt, minimum width=46pt, minimum height=11pt, font=\fontsize{9}{10}\selectfont] at (axis cs:368.1875,13099.8) [xshift=2pt] {13099.80};
\end{axis}
% title and legend swatches
\fill[black] (5pt,1050pt) -- (11pt,1050pt) -- (8pt,1046.5pt) -- cycle;
\node[anchor=base west, inner sep=0pt, font=\fontsize{9}{10}\selectfont] at (16pt,1045pt) {USTEC,M1};
\draw[steelb, line width=1pt, fill=white] (16.8pt,1030.5pt) rectangle (35.2pt,1011.8pt);
\draw[fireb, line width=1pt, fill=white] (41.8pt,1030.5pt) rectangle (60.2pt,1011.8pt);
\fill[lsteel] (66.3pt,1031pt) rectangle (86pt,1011.3pt);
\fill[lsalmon] (91pt,1031pt) rectangle (111pt,1011.3pt);
\fill[yellow] (116pt,1031pt) rectangle (136pt,1011.3pt);
\fill[bandblue] (142pt,1030pt) rectangle (160pt,1026.7pt);
\fill[crims] (142pt,1015.7pt) rectangle (160pt,1012.3pt);
\fill[mseagreen] (167pt,1030pt) rectangle (185pt,1026.7pt);
\fill[mtred] (167pt,1015.7pt) rectangle (185pt,1012.3pt);
\pgfresetboundingbox
\path[use as bounding box] (-2pt,-21pt) rectangle (2998pt,1059pt);
\end{tikzpicture}
\end{document}
